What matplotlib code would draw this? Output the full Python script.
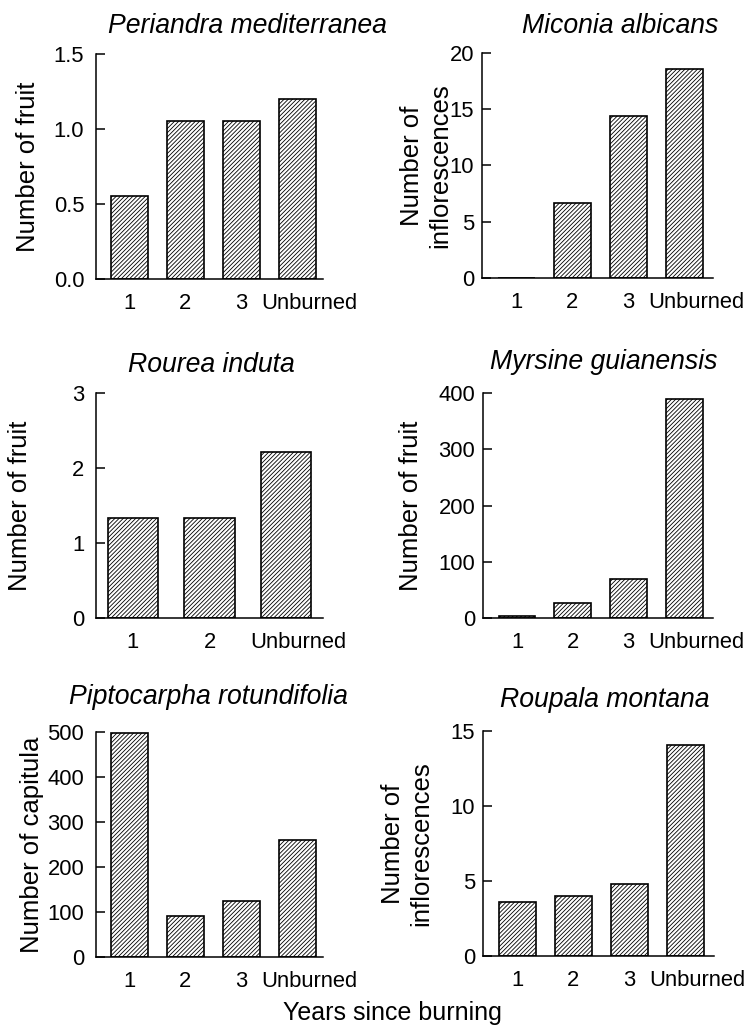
import matplotlib
matplotlib.use("Agg")
import matplotlib.pyplot as plt
from matplotlib.transforms import ScaledTranslation

plt.rcParams['font.family'] = ['Liberation Sans', 'DejaVu Sans']
plt.rcParams['hatch.linewidth'] = 0.6

# data
species = ["Periandra mediterranea", "Miconia albicans", "Rourea induta",
           "Myrsine guianensis", "Piptocarpha rotundifolia", "Roupala montana"]
ylabels = ["Number of fruit", "Number of\ninflorescences", "Number of fruit",
           "Number of fruit", "Number of capitula", "Number of\ninflorescences"]
categories = [["1", "2", "3", "Unburned"],
              ["1", "2", "3", "Unburned"],
              ["1", "2", "Unburned"],
              ["1", "2", "3", "Unburned"],
              ["1", "2", "3", "Unburned"],
              ["1", "2", "3", "Unburned"]]
periandra = [0.55, 1.05, 1.05, 1.2]
miconia = [0.0, 6.7, 14.4, 18.6]
rourea = [1.34, 1.34, 2.21]
myrsine = [4, 27, 70, 389]
piptocarpha = [497, 92, 125, 261]
roupala = [3.6, 4.0, 4.8, 14.1]
values = [periandra, miconia, rourea, myrsine, piptocarpha, roupala]
yticks = [[0.0, 0.5, 1.0, 1.5], [0, 5, 10, 15, 20], [0, 1, 2, 3],
          [0, 100, 200, 300, 400], [0, 100, 200, 300, 400, 500], [0, 5, 10, 15]]
ytick_fmt = ["{:.1f}", "{:d}", "{:d}", "{:d}", "{:d}", "{:d}"]

# layout (pixels of the 749x1026 figure)
W, H = 749, 1026
axes_px = [(96, 54, 227), (482, 53, 231),
           (96, 393, 227), (483, 393, 230),
           (96, 732, 227), (483, 731, 231)]
ax_h = 225
title_x = [0.665, 0.60, 0.51, 0.526, 0.497, 0.528]
title_pad = [15, 14.5, 15, 17, 20, 17]
ylabel_x = [-0.247, -0.13, -0.282, -0.26, -0.229, -0.216]

fig = plt.figure(figsize=(W / 100, H / 100), dpi=100)

for i in range(6):
    left, top, w = axes_px[i]
    ax = fig.add_axes([left / W, 1 - (top + ax_h) / H, w / W, ax_h / H])
    vals = values[i]
    x = list(range(len(vals)))
    ax.bar(x, vals, width=0.66, color="white", edgecolor="black",
           linewidth=1.2, hatch="////////")

    if len(vals) == 3:
        ax.set_xlim(-0.48, 2.48)
    elif i % 2 == 0:
        ax.set_xlim(-0.59, 3.46)
    else:
        ax.set_xlim(-0.61, 3.51)
    ax.set_ylim(yticks[i][0], yticks[i][-1])

    ax.set_xticks(x)
    ax.set_xticklabels(categories[i], fontsize=15.8)
    ax.set_yticks(yticks[i])
    ax.set_yticklabels([ytick_fmt[i].format(t) for t in yticks[i]], fontsize=15.8)
    ax.tick_params(axis="x", length=0, pad=10)
    ax.tick_params(axis="y", direction="in", length=6.5, width=1.1,
                   pad=8.5 if i % 2 == 0 else 5.5)
    # "Unburned" sits a little to the right of its bar
    lab = ax.get_xticklabels()[-1]
    lab.set_transform(lab.get_transform() + ScaledTranslation(0.12, 0, fig.dpi_scale_trans))

    for s in ["top", "right"]:
        ax.spines[s].set_visible(False)
    for s in ["left", "bottom"]:
        ax.spines[s].set_linewidth(1.1)

    ax.set_title(species[i], fontsize=19.2, style="italic", x=title_x[i], pad=title_pad[i])
    ax.set_ylabel(ylabels[i], fontsize=18.5)
    ax.yaxis.set_label_coords(ylabel_x[i], 0.5)

fig.text(392 / W, 1 - 1020 / H, "Years since burning", fontsize=18,
         ha="center", va="baseline")

fig.savefig("out.png", dpi=100)
